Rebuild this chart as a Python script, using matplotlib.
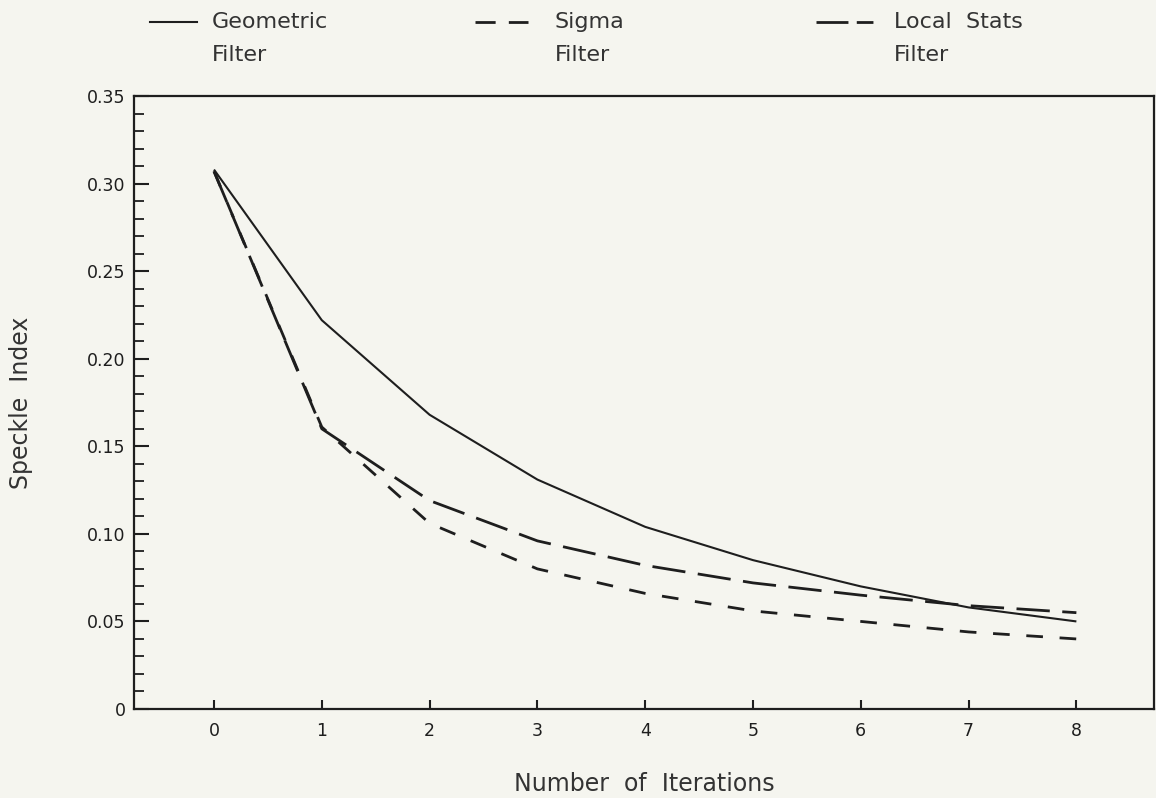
import matplotlib
matplotlib.use('Agg')
import matplotlib.pyplot as plt
from matplotlib.lines import Line2D
import numpy as np

# values
iterations = [0, 1, 2, 3, 4, 5, 6, 7, 8]
geometric = [0.308, 0.222, 0.168, 0.131, 0.104, 0.085, 0.070, 0.058, 0.050]
sigma = [0.307, 0.161, 0.106, 0.080, 0.066, 0.056, 0.050, 0.044, 0.040]
local_stats = [0.307, 0.160, 0.119, 0.096, 0.082, 0.072, 0.065, 0.059, 0.055]

yticks = [0, 0.05, 0.10, 0.15, 0.20, 0.25, 0.30, 0.35]
ytick_labels = ['0', '0.05', '0.10', '0.15', '0.20', '0.25', '0.30', '0.35']

ink = '#1e1e1e'
bg = '#f5f5ef'
plt.rcParams['lines.scale_dashes'] = False

fig = plt.figure(figsize=(11.56, 7.98), dpi=100, facecolor=bg)
W, H = 1156.0, 798.0
ax = fig.add_axes([134/W, 1-709/H, (1154-134)/W, (709-96)/H], facecolor=bg)

ax.plot(iterations, geometric, color=ink, lw=1.5, solid_capstyle='butt')
ax.plot(iterations, sigma, color=ink, lw=2.0, dashes=(12, 12))
ax.plot(iterations, local_stats, color=ink, lw=2.0, dashes=(24, 9))

ax.set_xlim(-0.742, 8.72)
ax.set_ylim(0, 0.35)
ax.set_xticks(iterations)
ax.set_yticks(yticks)
ax.set_yticklabels(ytick_labels)
ax.set_yticks(np.arange(0, 0.351, 0.01), minor=True)

for s in ax.spines.values():
    s.set_linewidth(1.6)
    s.set_color(ink)
ax.tick_params(axis='y', which='major', direction='in', length=11, width=1.5,
               labelsize=12.5, pad=6, colors=ink)
ax.tick_params(axis='y', which='minor', direction='in', length=7, width=1.3, colors=ink)
ax.tick_params(axis='x', which='major', direction='in', length=6.5, width=1.5,
               labelsize=12.5, pad=9, colors=ink)

ax.set_ylabel('Speckle  Index', fontsize=17, color='#333333')
ax.yaxis.set_label_coords(-0.099, 0.5)
ax.set_xlabel('Number  of  Iterations', fontsize=17, color='#333333')
ax.xaxis.set_label_coords(0.5, -0.102)

# legend across the top
ly1 = 1 - 22/H
ly2 = 1 - 55/H
fig.add_artist(Line2D([150/W, 197/W], [ly1, ly1], transform=fig.transFigure,
                      color=ink, lw=1.5))
fig.add_artist(Line2D([475/W, 528/W], [ly1, ly1], transform=fig.transFigure,
                      color=ink, lw=2.0, dashes=(14.5, 9.5)))
fig.add_artist(Line2D([816/W, 882/W], [ly1, ly1], transform=fig.transFigure,
                      color=ink, lw=2.0, dashes=(23, 6, 12, 50)))
for x0, top, bottom in [(212, 'Geometric', 'Filter'),
                        (555, 'Sigma', 'Filter'),
                        (894, 'Local  Stats', 'Filter')]:
    fig.text(x0/W, ly1, top, fontsize=16, va='center', ha='left', color='#333333')
    fig.text(x0/W, ly2, bottom, fontsize=16, va='center', ha='left', color='#333333')

fig.savefig('out.png', dpi=100, facecolor=bg)
